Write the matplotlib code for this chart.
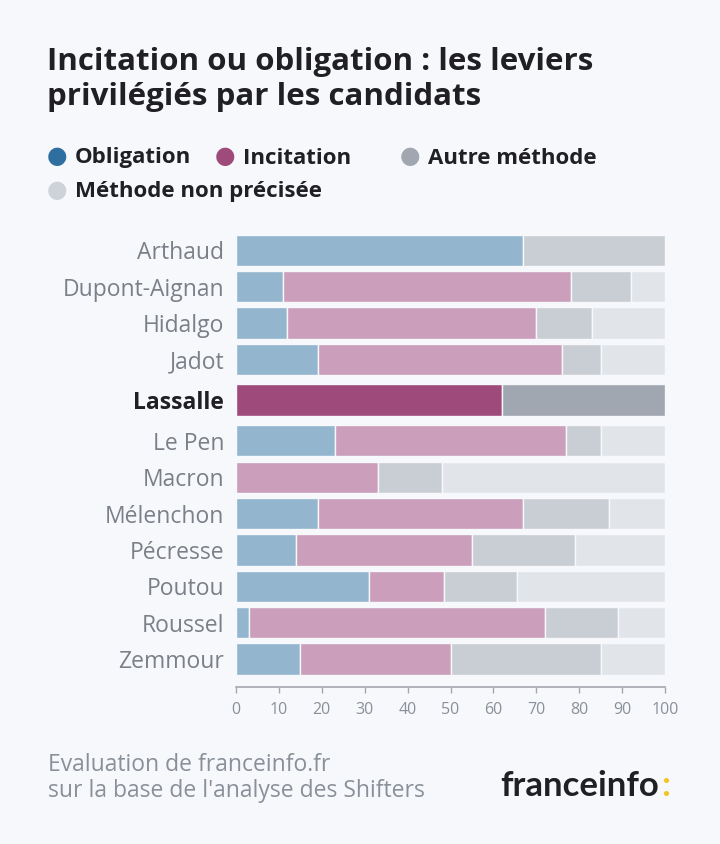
import numpy as np
import matplotlib.pyplot as plt

# === DATA ===
candidates = ["Arthaud", "Dupont-Aignan", "Hidalgo", "Jadot", "Lassalle", "Le Pen",
              "Macron", "Mélenchon", "Pécresse", "Poutou", "Roussel", "Zemmour"]
obligation = [67, 11, 12, 19, 0, 23, 0, 19, 14, 31, 3, 15]
incitation = [0, 67, 58, 57, 62, 54, 33, 48, 41, 17.5, 69, 35]
autre = [33, 14, 13, 9, 38, 8, 15, 20, 24, 17, 17, 35]
non_precisee = [0, 8, 17, 15, 0, 15, 52, 13, 21, 34.5, 11, 15]
highlight = "Lassalle"
series_names = ["Obligation", "Incitation", "Autre méthode", "Méthode non précisée"]
x_ticks = [0, 10, 20, 30, 40, 50, 60, 70, 80, 90, 100]

# === STYLE ===
full_colors = ["#2f6f9f", "#9e4a7a", "#a0a7b0", "#cdd3d9"]
faded_colors = ["#93b5cd", "#cb9ebb", "#c9ced4", "#e1e5e9"]
bg = "#f7f8fb"
gray_text = "#7b8088"
dark = "#1f1f24"

plt.rcParams["font.family"] = ["Open Sans", "DejaVu Sans"]

fig = plt.figure(figsize=(7.2, 8.44), dpi=100, facecolor=bg)
W, H = 720, 844
ax = fig.add_axes([236 / W, 1 - 687 / H, 429 / W, 455 / H], facecolor=bg)

# y positions: small extra gap around the highlighted row
hi = candidates.index(highlight)
idx = np.arange(len(candidates))
pos = idx + 0.12 * (idx >= hi) + 0.12 * (idx > hi)

series = [obligation, incitation, autre, non_precisee]
for i, name in enumerate(candidates):
    left = 0
    for k, vals in enumerate(series):
        v = vals[i]
        if v <= 0:
            continue
        c = full_colors[k] if name == highlight else faded_colors[k]
        ax.barh(pos[i], v, left=left, height=0.86, color=c,
                edgecolor=bg, linewidth=1.0)
        left += v

ax.set_xlim(0, 100)
ax.set_ylim(pos[-1] + 0.77, -0.5)
ax.set_yticks(pos)
ax.set_yticklabels(candidates)
for lbl in ax.get_yticklabels():
    if lbl.get_text() == highlight:
        lbl.set_color(dark)
        lbl.set_fontweight("bold")
    else:
        lbl.set_color(gray_text)
ax.tick_params(axis="y", length=0, pad=8.5, labelsize=16.5)
ax.set_xticks(x_ticks)
ax.tick_params(axis="x", length=4, width=1, color="#a3a8af",
               labelcolor="#8a9099", labelsize=11.5, pad=7)
for s in ["top", "right", "left"]:
    ax.spines[s].set_visible(False)
ax.spines["bottom"].set_color("#a3a8af")
ax.spines["bottom"].set_linewidth(1.2)

# === TITLE ===
fig.text(47 / W, 1 - 47 / H, "Incitation ou obligation : les leviers\nprivilégiés par les candidats",
         fontsize=22.5, fontweight="bold", color=dark, va="top", ha="left", linespacing=1.2)

# === LEGEND ===
leg_pos = [(57, 156), (225, 156), (410, 156), (57, 190)]
for (lx, ly), name, col in zip(leg_pos, series_names, full_colors):
    fig.text(lx / W, 1 - ly / H, "●", color=col, fontsize=17, ha="center", va="center",
             family="DejaVu Sans")
    fig.text((lx + 18) / W, 1 - (ly + 2) / H, name, color=dark, fontsize=16, fontweight="bold",
             ha="left", va="center")

# === FOOTER ===
fig.text(48 / W, 1 - 753 / H, "Evaluation de franceinfo.fr\nsur la base de l'analyse des Shifters",
         color="#8a9099", fontsize=16.5, ha="left", va="top", linespacing=1.12)
fig.text(659 / W, 1 - 786 / H, "franceinfo", color=dark, fontsize=25, fontweight="bold",
         ha="right", va="center", family="Lato")
fig.text(661 / W, 1 - 786 / H, ":", color="#f6c324", fontsize=25, fontweight="bold",
         ha="left", va="center", family="Lato")

fig.savefig("out.png", dpi=100, facecolor=bg)
